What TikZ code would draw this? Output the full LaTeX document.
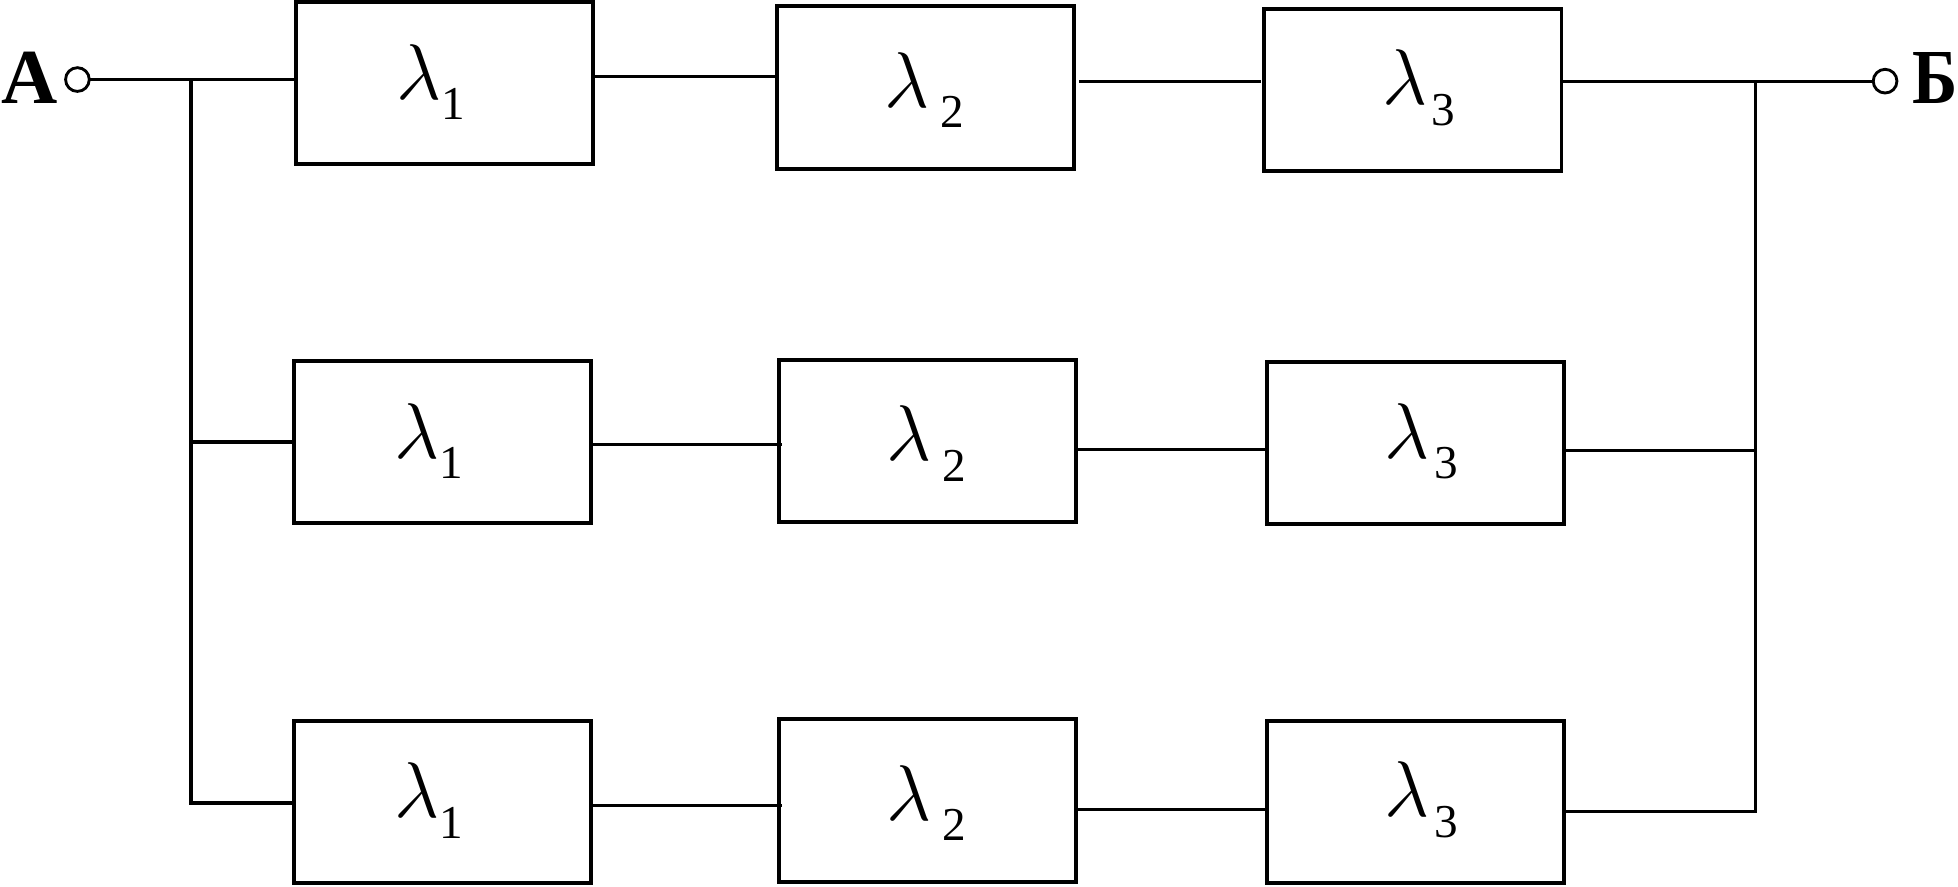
\RequirePackage{fix-cm}
\documentclass[tikz,border=0pt]{standalone}
\usepackage{fontspec}
\setmainfont{Liberation Serif}
\usetikzlibrary{calc}
\newcommand\lamlbl[2]{$\lambda$\kern#2\raisebox{-0.33cm}{\fontsize{21.5}{22}\selectfont #1}}
\begin{document}
\begin{tikzpicture}[x=0.02cm,y=-0.02cm,
  blk/.style={draw, line width=1.8pt, minimum width=4.76cm, minimum height=2.6cm,
              inner sep=0pt, outer sep=0pt},
  wire/.style={line width=1.5pt},
  term/.style={circle, draw, line width=1.3pt, minimum size=0.38cm, inner sep=0pt, outer sep=0pt},
  lbl/.style={anchor=base west, inner sep=0pt, font=\fontsize{36}{38}\selectfont},
  pole/.style={inner sep=0pt, font=\fontsize{35.5}{36}\selectfont\bfseries}]
\useasboundingbox (0,0) rectangle (1568,709.6);

% blocks
\node[blk] (b11) at (356,66.5) {};
\node[blk] (b12) at (741,70) {};
\node[blk] (b13) at (1131.5,72) {};
\node[blk] (b21) at (354.5,354) {};
\node[blk] (b22) at (742.5,353) {};
\node[blk] (b23) at (1133.5,355) {};
\node[blk] (b31) at (354.5,642) {};
\node[blk] (b32) at (742.5,641) {};
\node[blk] (b33) at (1133.5,642) {};

% labels
\foreach \r in {1,2,3}{
  \node[lbl] (l\r1) at ($(b\r1.north west)+(80,78)$) {\lamlbl{1}{0cm}};
  \node[lbl] (l\r2) at ($(b\r2.north west)+(86,80.7)$) {\lamlbl{2}{0.18cm}};
  \node[lbl] (l\r3) at ($(b\r3.north west)+(94,77)$) {\lamlbl{3}{0.07cm}};
}

% terminals
\node[term] (tA) at (62,63.7) {};
\node[term] (tB) at (1509.6,65) {};
\node[pole, anchor=base west] (A) at (0.5,82.7) {А};
\node[pole, anchor=base east] (B) at (1568,82.6) {\scalebox{0.88}[1]{Б}};

% junctions
\coordinate (jL1) at (153,63.7);
\coordinate (jL2) at (153,354);
\coordinate (jL3) at (153,643);
\coordinate (jR1) at (1406,65);
\coordinate (jR2) at (1406,361);
\coordinate (jR3) at (1406,650);

% left side
\draw[wire] (tA) -- (b11.west |- tA);
\draw[wire] (jL1) -- (jL3) -- (b31.west |- jL3);
\draw[wire] (jL2) -- (b21.west |- jL2);

% right side
\draw[wire] (b13.east |- tB) -- (tB);
\draw[wire] (jR1) -- (jR3) -- (b33.east |- jR3);
\draw[wire] (b23.east |- jR2) -- (jR2);

% series connections
\draw[wire] (b11.east |- 0,61) -- (b12.west |- 0,61);
\draw[wire] ([xshift=0.08cm]b12.east |- 0,65) -- ([xshift=-0.06cm]b13.west |- 0,65);
\draw[wire] (b21.east |- 0,356) -- ([xshift=0.06cm]b22.west |- 0,356);
\draw[wire] (b22.east |- 0,360) -- (b23.west |- 0,360);
\draw[wire] (b31.east |- 0,645) -- ([xshift=0.06cm]b32.west |- 0,645);
\draw[wire] (b32.east |- 0,648) -- (b33.west |- 0,648);
\end{tikzpicture}
\end{document}
